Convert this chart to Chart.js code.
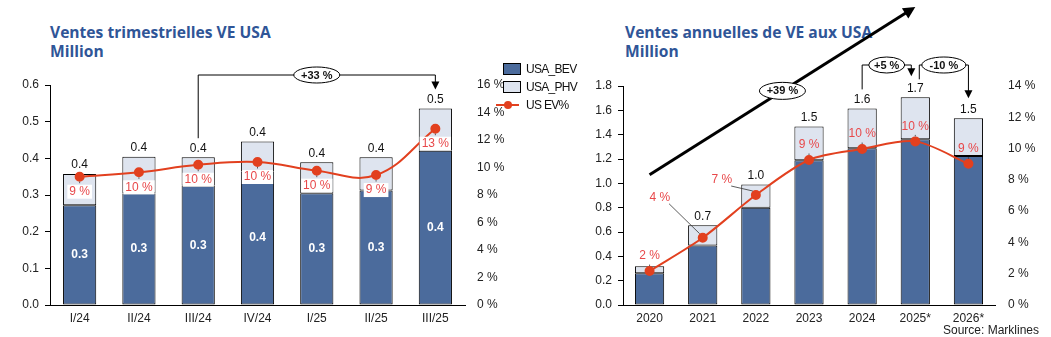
<!DOCTYPE html>
<html lang="fr">
<head>
<meta charset="utf-8">
<script src="https://cdn.jsdelivr.net/npm/chart.js@4/dist/chart.umd.min.js"></script>
<style>
  body { margin: 0; background: #fff; width: 1051px; height: 337px; overflow: hidden; position: relative; font-family: "Liberation Sans", Arial, sans-serif; }
  canvas { position: absolute; top: 0; }
  #c1 { left: 0; }
  #c2 { left: 520px; }
  .title { position: absolute; top: 23px; color: #2f5597; font: bold 15.6px "Open Sans", sans-serif; line-height: 19px; }
  .legend { position: absolute; left: 496px; top: 60px; font-size: 12px; letter-spacing: -0.7px; color: #111; z-index: 2; }
  .legend div { position: relative; height: 18px; padding-left: 30px; line-height: 18px; }
  .legend .box { position: absolute; left: 7px; top: 3px; width: 16px; height: 10px; border: 1px solid #000; padding: 0; }
  .legend .ln { position: absolute; left: 0; top: 8px; width: 23px; height: 2px; background: #e2401f; padding: 0; }
  .legend .dot { position: absolute; left: 8px; top: 5px; width: 8px; height: 8px; border-radius: 50%; background: #e2401f; padding: 0; }
  .source { position: absolute; right: 12px; top: 323px; font-size: 12px; color: #222; }
</style>
</head>
<body>
<div class="title" style="left:50px">Ventes trimestrielles VE USA<br>Million</div>
<div class="title" style="left:625px">Ventes annuelles de VE aux USA<br>Million</div>
<canvas id="c1" width="505" height="337"></canvas>
<canvas id="c2" width="531" height="337"></canvas>
<div class="legend">
  <div><span class="box" style="background:#4b6b9c"></span>USA_BEV</div>
  <div><span class="box" style="background:#dee4ef"></span>USA_PHV</div>
  <div><span class="ln"></span><span class="dot"></span>US EV%</div>
</div>
<div class="source">Source: Marklines</div>
<script>
// quarterly chart
const quarters = ['I/24', 'II/24', 'III/24', 'IV/24', 'I/25', 'II/25', 'III/25'];
const qBev = [0.272, 0.305, 0.325, 0.365, 0.305, 0.312, 0.421];
const qPhv = [0.085, 0.099, 0.078, 0.081, 0.084, 0.091, 0.115];
const qShare = [9.33, 9.65, 10.2, 10.4, 9.77, 9.45, 12.82];

// annual chart
const years = ['2020', '2021', '2022', '2023', '2024', '2025*', '2026*'];
const yBev = [0.26, 0.49, 0.80, 1.19, 1.288, 1.362, 1.224];
const yPhv = [0.058, 0.165, 0.19, 0.278, 0.328, 0.345, 0.31];
const yShare = [2.17, 4.3, 7.03, 9.27, 9.97, 10.46, 9.03];

const BEV_COLOR = '#4b6b9c';
const PHV_COLOR = '#dee4ef';
const LINE_COLOR = '#e2401f';
const PCT_COLOR = '#e8484a';
const FONT = '"Liberation Sans", Arial, sans-serif';

function totals(a, b) {
  return a.map((v, i) => v + b[i]);
}

function ellipseLabel(ctx, x, y, rx, ry, text) {
  ctx.save();
  ctx.beginPath();
  ctx.ellipse(x, y, rx, ry, 0, 0, Math.PI * 2);
  ctx.fillStyle = '#fff';
  ctx.fill();
  ctx.strokeStyle = '#000';
  ctx.lineWidth = 1;
  ctx.stroke();
  ctx.fillStyle = '#111';
  ctx.font = 'bold 11px ' + FONT;
  ctx.textAlign = 'center';
  ctx.textBaseline = 'middle';
  ctx.fillText(text, x, y + 0.5);
  ctx.restore();
}

function arrowHead(ctx, x, y, angle, size) {
  ctx.save();
  ctx.translate(x, y);
  ctx.rotate(angle);
  ctx.beginPath();
  ctx.moveTo(0, 0);
  ctx.lineTo(-size, -size / 2);
  ctx.lineTo(-size, size / 2);
  ctx.closePath();
  ctx.fillStyle = '#000';
  ctx.fill();
  ctx.restore();
}

// bracket: up from one bar, across, down with an arrow to another
function bracket(ctx, x1, yStart, x2, yEnd, yTop, text, rx) {
  ctx.save();
  ctx.strokeStyle = '#000';
  ctx.lineWidth = 1;
  ctx.beginPath();
  ctx.moveTo(x1, yStart);
  ctx.lineTo(x1, yTop);
  ctx.lineTo(x2, yTop);
  ctx.lineTo(x2, yEnd - 6);
  ctx.stroke();
  ctx.restore();
  arrowHead(ctx, x2, yEnd, Math.PI / 2, 8);
  ellipseLabel(ctx, (x1 + x2) / 2, yTop, rx, 8, text);
}

// value labels drawn on top of the datasets
const labelPlugin = {
  id: 'valueLabels',
  afterDatasetsDraw(chart, args, opts) {
    const ctx = chart.ctx;
    const xs = chart.scales.x, ys = chart.scales.y, y1 = chart.scales.y1;
    const bev = chart.data.datasets[1].data;
    const phv = chart.data.datasets[2].data;
    const share = chart.data.datasets[0].data;
    ctx.save();
    ctx.textAlign = 'center';
    ctx.textBaseline = 'middle';
    bev.forEach((v, i) => {
      const x = xs.getPixelForValue(i);
      const tot = v + phv[i];
      if (opts.showTotal[i]) {
        ctx.font = '12px ' + FONT;
        ctx.fillStyle = '#111';
        ctx.fillText(tot.toFixed(1), x, ys.getPixelForValue(tot) - 9);
      }
      if (opts.showBev) {
        ctx.font = 'bold 12px ' + FONT;
        ctx.fillStyle = '#fff';
        ctx.fillText(v.toFixed(1), x, ys.getPixelForValue(v / 2));
      }
      // share label with leader
      const px = x, py = y1.getPixelForValue(share[i]);
      const [dx, dy] = opts.pctOffsets[i];
      const lx = px + dx, ly = py + dy;
      const txt = Math.round(share[i]) + ' %';
      ctx.font = '12px ' + FONT;
      const w = ctx.measureText(txt).width + 4;
      ctx.strokeStyle = '#333';
      ctx.lineWidth = 0.8;
      if (dx === 0) {
        ctx.setLineDash([1.5, 1.5]);
        ctx.beginPath();
        const s = dy > 0 ? 1 : -1;
        ctx.moveTo(px, py + s * 5);
        ctx.lineTo(px, ly - s * 7);
        ctx.stroke();
        ctx.setLineDash([]);
      } else {
        ctx.beginPath();
        ctx.moveTo(lx + w / 2 - 3, ly + 6);
        ctx.lineTo(px - 3, py - 4);
        ctx.stroke();
      }
      if (opts.pctBox) {
        ctx.fillStyle = '#fff';
        ctx.fillRect(lx - w / 2, ly - 7, w, 14);
      }
      ctx.fillStyle = PCT_COLOR;
      ctx.fillText(txt, lx, ly);
    });
    ctx.restore();
  },
  afterDraw(chart, args, opts) {
    if (opts.annotate) opts.annotate(chart);
  }
};

function makeChart(canvas, labels, bev, phv, share, cfg) {
  return new Chart(canvas, {
    type: 'bar',
    data: {
      labels: labels,
      datasets: [
        {
          type: 'line', label: 'US EV%', data: share, yAxisID: 'y1', order: 0,
          borderColor: LINE_COLOR, backgroundColor: LINE_COLOR, borderWidth: 2,
          pointRadius: 4, pointHoverRadius: 4, tension: cfg.tension
        },
        {
          label: 'USA_BEV', data: bev, backgroundColor: BEV_COLOR, borderColor: '#000',
          borderWidth: 1, borderSkipped: false, order: 1, stack: 's'
        },
        {
          label: 'USA_PHV', data: phv, backgroundColor: PHV_COLOR, borderColor: '#000',
          borderWidth: 1, borderSkipped: false, order: 1, stack: 's'
        }
      ]
    },
    options: {
      responsive: false,
      animation: false,
      events: [],
      datasets: { bar: { barPercentage: cfg.barPct, categoryPercentage: 1 } },
      layout: { padding: { top: cfg.top, left: 0, right: 0, bottom: 0 } },
      plugins: {
        legend: { display: false },
        tooltip: { enabled: false },
        valueLabels: cfg.labels
      },
      scales: {
        x: {
          stacked: true,
          grid: { display: false, drawTicks: false },
          border: { display: true, color: '#000', width: 1 },
          ticks: { color: '#222', font: { family: FONT, size: 12 }, padding: 6 },
          afterFit(s) { s.height = 32; }
        },
        y: {
          stacked: true, min: 0, max: cfg.yMax,
          grid: { drawOnChartArea: false, color: '#000', tickLength: 5 },
          border: { display: true, color: '#000', width: 1 },
          ticks: {
            stepSize: cfg.yStep, color: '#222', padding: 6,
            font: { family: FONT, size: 12 },
            callback: v => v.toFixed(1)
          },
          afterFit(s) { s.width = cfg.left; }
        },
        y1: {
          position: 'right', min: 0, max: cfg.pMax,
          grid: { display: false, drawTicks: false },
          border: { display: false },
          ticks: {
            stepSize: 2, color: '#222', padding: cfg.rPad,
            font: { family: FONT, size: 12 },
            callback: v => v + ' %'
          },
          afterFit(s) { s.width = cfg.right; }
        }
      }
    },
    plugins: [labelPlugin]
  });
}

const qTotals = totals(qBev, qPhv);
const yTotals = totals(yBev, yPhv);

makeChart(document.getElementById('c1'), quarters, qBev, qPhv, qShare, {
  tension: 0.4, barPct: 0.56, top: 85, left: 50, right: 40, rPad: 12,
  yMax: 0.6, yStep: 0.1, pMax: 16,
  labels: {
    showTotal: quarters.map(() => true),
    showBev: true,
    pctBox: true,
    pctOffsets: quarters.map(() => [0, 15]),
    annotate(chart) {
      const xs = chart.scales.x, ys = chart.scales.y;
      const x1 = xs.getPixelForValue(2), x2 = xs.getPixelForValue(6);
      bracket(chart.ctx, x1, ys.getPixelForValue(qTotals[2]) - 19, x2,
        ys.getPixelForValue(qTotals[6]) - 19, chart.chartArea.top - 10, '+33 %', 23);
    }
  }
});

makeChart(document.getElementById('c2'), years, yBev, yPhv, yShare, {
  tension: 0.3, barPct: 0.55, top: 86, left: 103, right: 56, rPad: 13,
  yMax: 1.8, yStep: 0.2, pMax: 14,
  labels: {
    showTotal: years.map((y, i) => i > 0),
    showBev: false,
    pctBox: false,
    pctOffsets: [[0, -15], [-43, -40], [-34, -15], [0, -15], [0, -15], [0, -15], [0, -15]],
    annotate(chart) {
      const ctx = chart.ctx;
      const xs = chart.scales.x, ys = chart.scales.y;
      // long trend arrow
      const ax1 = xs.getPixelForValue(0), ay1 = ys.getPixelForValue(1.07);
      const ax2 = xs.getPixelForValue(5), ay2 = ys.getPixelForValue(2.45);
      const ang = Math.atan2(ay2 - ay1, ax2 - ax1);
      ctx.save();
      ctx.strokeStyle = '#000';
      ctx.lineWidth = 3;
      ctx.beginPath();
      ctx.moveTo(ax1, ay1);
      ctx.lineTo(ax2 - 8 * Math.cos(ang), ay2 - 8 * Math.sin(ang));
      ctx.stroke();
      ctx.restore();
      arrowHead(ctx, ax2, ay2, ang, 12);
      ellipseLabel(ctx, (ax1 + ax2) / 2, (ay1 + ay2) / 2, 23, 8.5, '+39 %');
      const top = chart.chartArea.top - 21;
      bracket(ctx, xs.getPixelForValue(4), ys.getPixelForValue(yTotals[4]) - 19,
        xs.getPixelForValue(5) - 4, ys.getPixelForValue(yTotals[5]) - 21, top, '+5 %', 18);
      bracket(ctx, xs.getPixelForValue(5) + 4, ys.getPixelForValue(yTotals[5]) - 18,
        xs.getPixelForValue(6), ys.getPixelForValue(yTotals[6]) - 20, top, '-10 %', 22);
    }
  }
});
</script>
</body>
</html>
